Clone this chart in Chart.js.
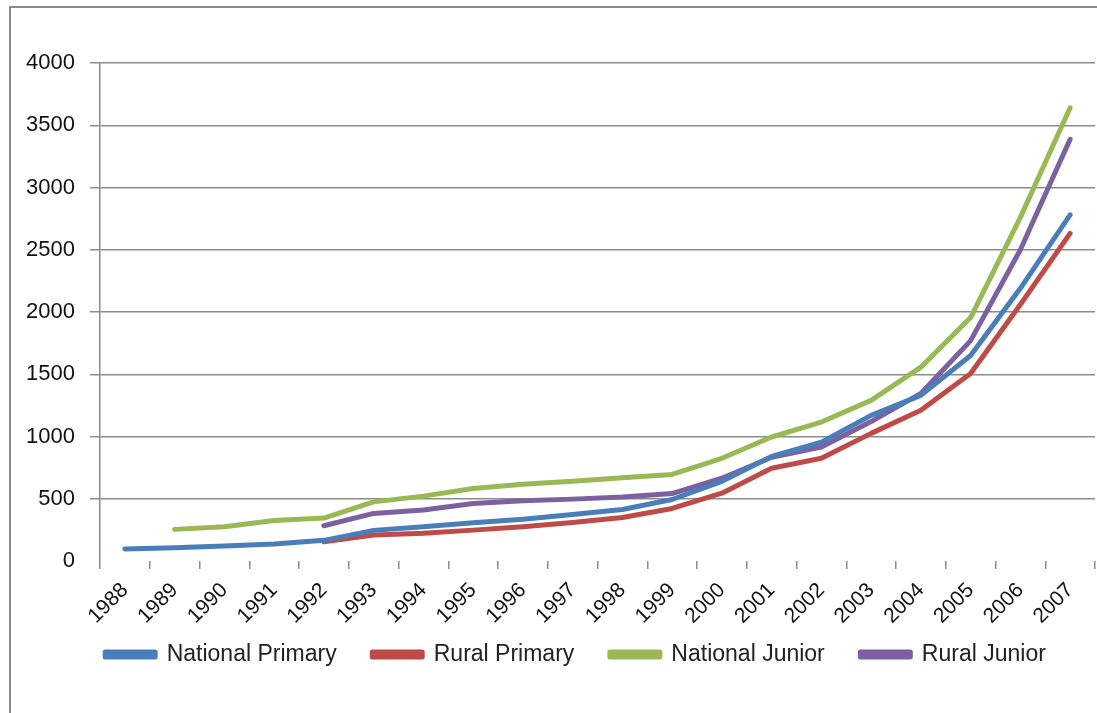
<!DOCTYPE html>
<html>
<head>
<meta charset="utf-8">
<script src="https://cdn.jsdelivr.net/npm/chart.js@4.4.1/dist/chart.umd.min.js"></script>
<style>
  html, body { margin: 0; padding: 0; background: #fff; }
  #frame {
    position: absolute; left: 9px; top: 6px;
    width: 1088px; height: 707px;
    border-left: 2px solid #8a8a8a; border-top: 2px solid #8a8a8a;
  }
  #wrap { position: absolute; left: 0; top: 0; width: 1086px; height: 705px; }
</style>
</head>
<body>
<div id="frame"><div id="wrap"><canvas id="chart"></canvas></div></div>
<script>
// years on the x axis
const years = ['1988','1989','1990','1991','1992','1993','1994','1995','1996','1997',
               '1998','1999','2000','2001','2002','2003','2004','2005','2006','2007'];

// values (null = no data that year)
const nationalPrimary = [96, 107, 120, 136, 166, 246, 275, 307, 336, 374,
                         414, 494, 640, 840, 955, 1170, 1330, 1650, 2190, 2780];
const ruralPrimary    = [null, null, null, null, 155, 208, 222, 248, 275, 310,
                         350, 422, 545, 745, 825, 1025, 1210, 1506, 2060, 2631];
const nationalJunior  = [null, 254, 275, 325, 345, 475, 521, 582, 617, 641,
                         668, 695, 825, 996, 1116, 1290, 1557, 1955, 2760, 3640];
const ruralJunior     = [null, null, null, null, 283, 382, 409, 462, 483, 497,
                         515, 542, 665, 833, 916, 1120, 1346, 1770, 2500, 3387];

const yTicks = { min: 0, max: 4000, step: 500 };

const gridGray = '#8c8c8c';
const font = "'Liberation Sans', Arial, sans-serif";

function series(label, data, color) {
  return {
    label: label,
    data: data,
    borderColor: color,
    backgroundColor: color,
    borderWidth: 5,
    borderCapStyle: 'round',
    borderJoinStyle: 'round',
    pointRadius: 0,
    pointHoverRadius: 0,
    tension: 0,
    fill: false,
    spanGaps: false
  };
}

// trailing spaces widen the gap between legend entries without growing the legend height
const gap = '    ';

// the y scale box is kept narrow so the legend centres like the original;
// widen it again after layout so its tick labels are not clipped
const widenYAxis = {
  id: 'widenYAxis',
  afterLayout: function (chart) {
    const y = chart.scales.y;
    y.left = 0;
    y.width = y.right;
  }
};

new Chart(document.getElementById('chart'), {
  type: 'line',
  data: {
    labels: years,
    datasets: [
      series('National Primary' + gap, nationalPrimary, '#4a7ebb'),
      series('Rural Primary' + gap, ruralPrimary, '#be4b48'),
      series('National Junior' + gap, nationalJunior, '#98b954'),
      series('Rural Junior', ruralJunior, '#7d60a0')
    ]
  },
  plugins: [widenYAxis],
  options: {
    responsive: true,
    maintainAspectRatio: false,
    animation: false,
    layout: { padding: { top: 55, right: 2, bottom: 37, left: 45 } },
    plugins: {
      tooltip: { enabled: false },
      legend: {
        position: 'bottom',
        labels: {
          boxWidth: 50,
          boxHeight: 5,
          padding: 10,
          color: '#222',
          font: { family: font, size: 23 }
        }
      }
    },
    scales: {
      x: {
        offset: true,
        grid: {
          offset: true,
          drawOnChartArea: false,
          color: gridGray,
          lineWidth: 1.5,
          tickLength: 8
        },
        border: { display: false },
        ticks: {
          autoSkip: false,
          maxRotation: 45,
          minRotation: 45,
          color: '#111',
          padding: 9,
          font: { family: font, size: 21 }
        },
        afterFit: function (s) { s.height = 72; }
      },
      y: {
        min: yTicks.min,
        max: yTicks.max,
        grid: {
          color: function (ctx) { return ctx.tick && ctx.tick.value === 0 ? 'rgba(0,0,0,0)' : gridGray; },
          lineWidth: 1.5,
          tickLength: 10
        },
        border: { display: true, color: gridGray, width: 1.5 },
        ticks: {
          stepSize: yTicks.step,
          color: '#111',
          padding: 15,
          font: { family: font, size: 22 },
          callback: function (v) { return String(v); }
        },
        afterFit: function (s) { s.width = 44; }
      }
    }
  }
});
</script>
</body>
</html>
